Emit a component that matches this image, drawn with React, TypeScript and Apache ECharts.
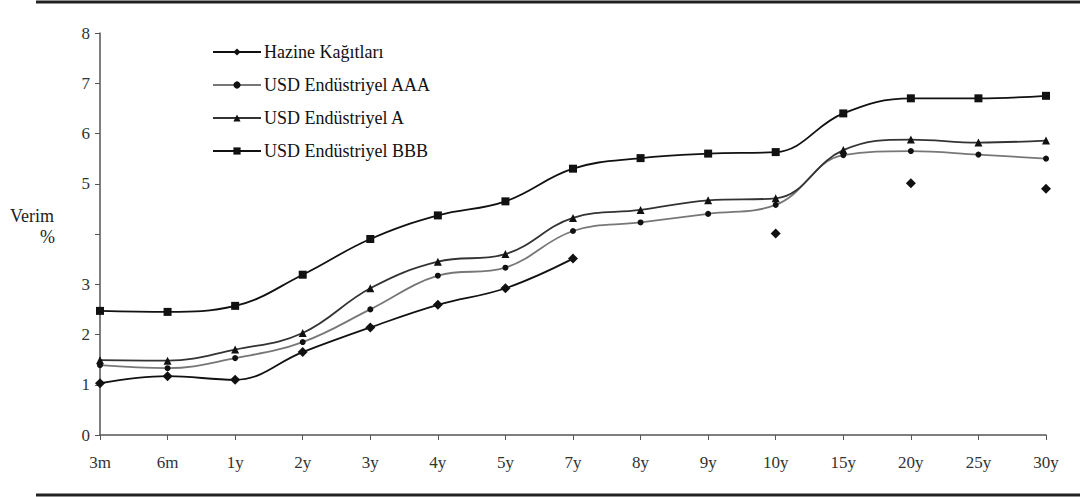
import React, { useEffect, useRef } from "react";
import * as echarts from "echarts";

// Maturities along the yield curve
const maturities = ["3m", "6m", "1y", "2y", "3y", "4y", "5y", "7y", "8y", "9y", "10y", "15y", "20y", "25y", "30y"];

// Yields (%) per maturity; null where no bill/bond is quoted
const hazine = [1.03, 1.17, 1.1, 1.65, 2.14, 2.59, 2.92, 3.51, null, null, 4.01, null, 5.01, null, 4.9];
const aaa = [1.39, 1.33, 1.53, 1.85, 2.5, 3.17, 3.33, 4.06, 4.23, 4.4, 4.58, 5.57, 5.65, 5.58, 5.5];
const singleA = [1.49, 1.48, 1.7, 2.03, 2.92, 3.45, 3.6, 4.32, 4.48, 4.67, 4.71, 5.67, 5.88, 5.82, 5.86];
const bbb = [2.47, 2.45, 2.57, 3.19, 3.9, 4.37, 4.65, 5.3, 5.51, 5.6, 5.63, 6.4, 6.7, 6.7, 6.75];

const seriesNames = ["Hazine Kağıtları", "USD Endüstriyel AAA", "USD Endüstriyel A", "USD Endüstriyel BBB"];

// Y tick labels; the 4 is blank on the printed chart
const yTickLabels = ["0", "1", "2", "3", "", "5", "6", "7", "8"];

const SERIF = "Liberation Serif";

export default function App() {
  const ref = useRef<HTMLDivElement>(null);

  useEffect(() => {
    if (!ref.current) return;
    const chart = echarts.init(ref.current, undefined, { renderer: "svg" });

    const line = (
      name: string,
      data: (number | null)[],
      symbol: string,
      size: number,
      lineColor: string,
      markColor: string
    ) => ({
      name,
      type: "line",
      data,
      smooth: 0.4,
      connectNulls: false,
      showSymbol: true,
      showAllSymbol: true,
      symbol,
      symbolSize: size,
      itemStyle: { color: markColor },
      lineStyle: { color: lineColor, width: 1.8 },
    });

    chart.setOption({
      animation: false,
      backgroundColor: "#ffffff",
      textStyle: { fontFamily: SERIF },
      grid: { left: 100, right: 34, top: 33, bottom: 62, containLabel: false },
      legend: {
        orient: "vertical",
        left: 207,
        top: 38,
        itemWidth: 48,
        itemHeight: 9,
        itemGap: 15,
        textStyle: { fontFamily: SERIF, fontSize: 18, color: "#111", padding: [0, 0, 0, -2] },
        data: seriesNames,
      },
      xAxis: {
        type: "category",
        data: maturities,
        boundaryGap: false,
        axisLine: { lineStyle: { color: "#555", width: 1.5 } },
        axisTick: { alignWithLabel: true, length: 5, lineStyle: { color: "#555" } },
        axisLabel: { fontFamily: SERIF, fontSize: 17, color: "#333", margin: 19 },
        splitLine: { show: false },
      },
      yAxis: {
        type: "value",
        min: 0,
        max: 8,
        interval: 1,
        axisLine: { show: true, lineStyle: { color: "#555", width: 1.5 } },
        axisTick: { show: true, length: 5, lineStyle: { color: "#555" } },
        axisLabel: {
          fontFamily: SERIF,
          fontSize: 17,
          color: "#333",
          margin: 10,
          formatter: (v: number) => yTickLabels[Math.round(v)] ?? "",
        },
        splitLine: { show: false },
      },
      graphic: [
        { type: "line", shape: { x1: 36, y1: 2, x2: 1080, y2: 2 }, style: { stroke: "#222", lineWidth: 3 } },
        { type: "line", shape: { x1: 36, y1: 495, x2: 1080, y2: 495 }, style: { stroke: "#222", lineWidth: 3 } },
        {
          type: "text",
          left: 10,
          top: 207,
          style: { text: "Verim", fontFamily: SERIF, fontSize: 18, fill: "#222" },
        },
        {
          type: "text",
          left: 40,
          top: 228,
          style: { text: "%", fontFamily: SERIF, fontSize: 18, fill: "#222" },
        },
      ],
      series: [
        line(seriesNames[0], hazine, "diamond", 10, "#111", "#111"),
        line(seriesNames[1], aaa, "circle", 6, "#777", "#111"),
        line(seriesNames[2], singleA, "triangle", 8, "#333", "#111"),
        line(seriesNames[3], bbb, "rect", 8, "#111", "#111"),
      ],
    });

    return () => chart.dispose();
  }, []);

  return <div ref={ref} style={{ position: "fixed", left: 0, top: 0, width: 1080, height: 497 }} />;
}
